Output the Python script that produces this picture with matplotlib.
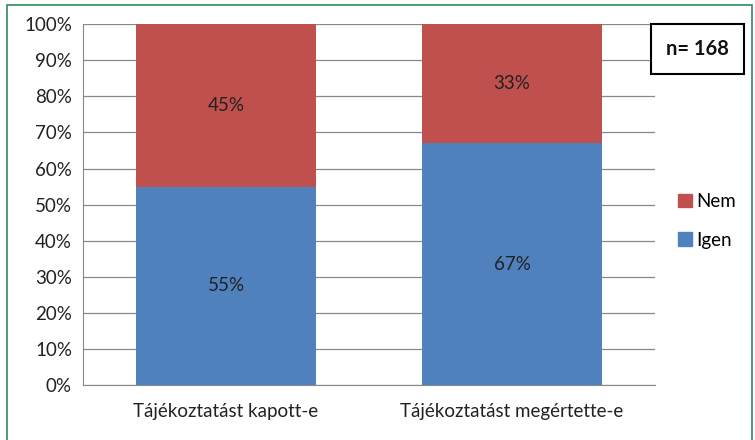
import matplotlib.pyplot as plt
from matplotlib.patches import Rectangle, Patch
from matplotlib.ticker import PercentFormatter

plt.rcParams['font.family'] = ['Lato', 'DejaVu Sans']

# adatok
categories = ['Tájékoztatást kapott-e', 'Tájékoztatást megértette-e']
igen = [55, 67]
nem = [45, 33]
n_text = 'n= 168'

blue = '#4F81BD'
red = '#C0504D'

fig = plt.figure(figsize=(7.55, 4.40), dpi=100)
ax = fig.add_axes([0.110, 0.125, 0.7575, 0.820])

x = range(len(categories))
b1 = ax.bar(x, igen, width=0.63, color=blue, zorder=3)
b2 = ax.bar(x, nem, width=0.63, bottom=igen, color=red, zorder=3)

for rect, v in zip(b1, igen):
    ax.text(rect.get_x() + rect.get_width() / 2, rect.get_y() + rect.get_height() / 2,
            f'{v}%', ha='center', va='center', fontsize=13.5, color='#222222', zorder=4)
for rect, v in zip(b2, nem):
    ax.text(rect.get_x() + rect.get_width() / 2, rect.get_y() + rect.get_height() / 2,
            f'{v}%', ha='center', va='center', fontsize=13.5, color='#222222', zorder=4)

ax.set_xlim(-0.5, len(categories) - 0.5)
ax.set_ylim(0, 100)
ax.set_yticks(range(0, 101, 10))
ax.yaxis.set_major_formatter(PercentFormatter(decimals=0))
ax.set_xticks(list(x))
ax.set_xticklabels(categories)
ax.tick_params(axis='x', length=0, pad=13, labelsize=13.5, colors='#222222')
ax.tick_params(axis='y', length=0, pad=8, labelsize=13.5, colors='#222222')
ax.grid(axis='y', color='#888888', linewidth=0.9, zorder=0)
for s in ['top', 'right']:
    ax.spines[s].set_visible(False)
ax.spines['left'].set_color('#888888')
ax.spines['bottom'].set_color('#888888')

# jelmagyarázat
handles = [Patch(color=red, label='Nem'), Patch(color=blue, label='Igen')]
fig.legend(handles=handles, loc='center left', bbox_to_anchor=(0.898, 0.498),
           frameon=False, fontsize=13.5, handlelength=0.75, handleheight=0.75,
           handletextpad=0.2, labelspacing=1.15, borderaxespad=0, borderpad=0)

# n= doboz
fig.text(0.924, 0.888, n_text, ha='center', va='center', fontsize=14.5,
         fontweight='bold', color='#111111',
         bbox=dict(boxstyle='square,pad=0.75', facecolor='white', edgecolor='black', linewidth=1.5))

# zöld keret
fig.patches.append(Rectangle((7 / 755, -0.01), 745 / 755, 1 - 5 / 440 + 0.01,
                             transform=fig.transFigure, fill=False,
                             edgecolor='#2E8B57', linewidth=1.2))

fig.savefig('out.png', dpi=100)
